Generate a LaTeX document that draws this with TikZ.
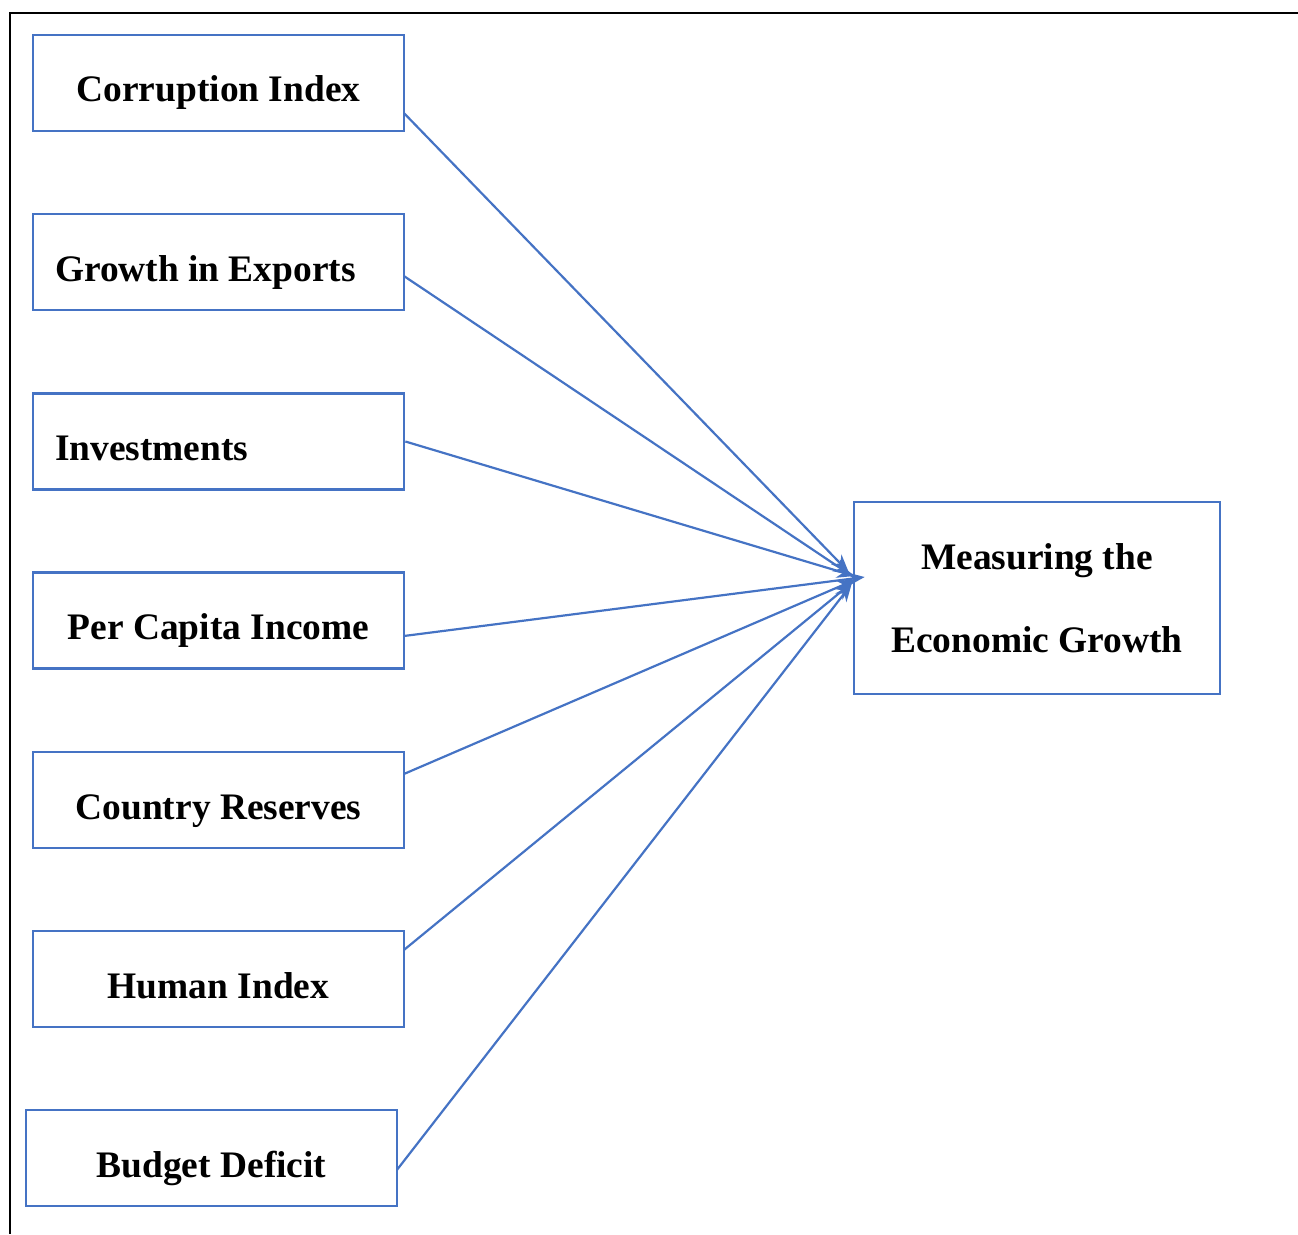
\documentclass[tikz,border=0pt]{standalone}
\usepackage{fontspec}
\setmainfont{Liberation Serif}
\usetikzlibrary{arrows.meta}
\begin{document}
\begin{tikzpicture}[x=0.02cm,y=-0.02cm,
  factor/.style={draw=kBlue,line width=1.6pt,minimum width=7.42cm,minimum height=1.92cm,
    inner sep=0pt,text height=0.76cm,text depth=0cm,font=\fontsize{21.3}{25}\selectfont\bfseries},
  factorleft/.style={factor,text width=6.54cm,align=flush left},
  outcome/.style={draw=kBlue,line width=1.6pt,minimum width=7.32cm,minimum height=3.84cm,
    inner sep=0pt,align=center,font=\fontsize{21.3}{47.2}\selectfont\bfseries},
  link/.style={draw=kBlue,line width=1.25pt,-{Stealth[length=10pt,width=8pt]}}]
  % colors
  \definecolor{kBlue}{rgb}{0.27,0.45,0.77}
  \useasboundingbox (0,0) rectangle (1298,1234);
  % frame
  \draw[black,line width=1.7pt] (1298,13) -- (10,13) -- (10,1234);
  % factors
  \node[factor] (corr) at (218.5,83) {Corruption Index};
  \node[factorleft] (expo) at (218.5,262) {Growth in Exports};
  \node[factorleft] (inve) at (218.5,441.5) {Investments};
  \node[factor] (pcap) at (218.5,620.5) {Per Capita Income};
  \node[factor] (resv) at (218.5,800) {Country Reserves};
  \node[factor] (huma) at (218.5,979) {Human Index};
  \node[factor] (budg) at (211.5,1158) {Budget Deficit};
  % outcome
  \node[outcome] (grow) at (1037,598) {Measuring the\\Economic Growth};
  % links
  \draw[link] ([xshift=-0.03cm,yshift=-0.6cm]corr.east) -- ([xshift=-0.08cm,yshift=0.52cm]grow.west);
  \draw[link] ([xshift=-0.03cm,yshift=-0.28cm]expo.east) -- ([xshift=-0.04cm,yshift=0.46cm]grow.west);
  \draw[link] (inve.east) -- ([xshift=0.04cm,yshift=0.44cm]grow.west);
  \draw[link] ([xshift=-0.03cm,yshift=-0.31cm]pcap.east) -- ([xshift=0.24cm,yshift=0.42cm]grow.west);
  \draw[link] ([xshift=-0.03cm,yshift=0.52cm]resv.east) -- ([xshift=0.04cm,yshift=0.36cm]grow.west);
  \draw[link] ([xshift=-0.03cm,yshift=0.58cm]huma.east) -- ([xshift=-0.02cm,yshift=0.30cm]grow.west);
  \draw[link] ([xshift=-0.03cm,yshift=-0.24cm]budg.east) -- ([xshift=-0.02cm,yshift=0.28cm]grow.west);
\end{tikzpicture}
\end{document}
